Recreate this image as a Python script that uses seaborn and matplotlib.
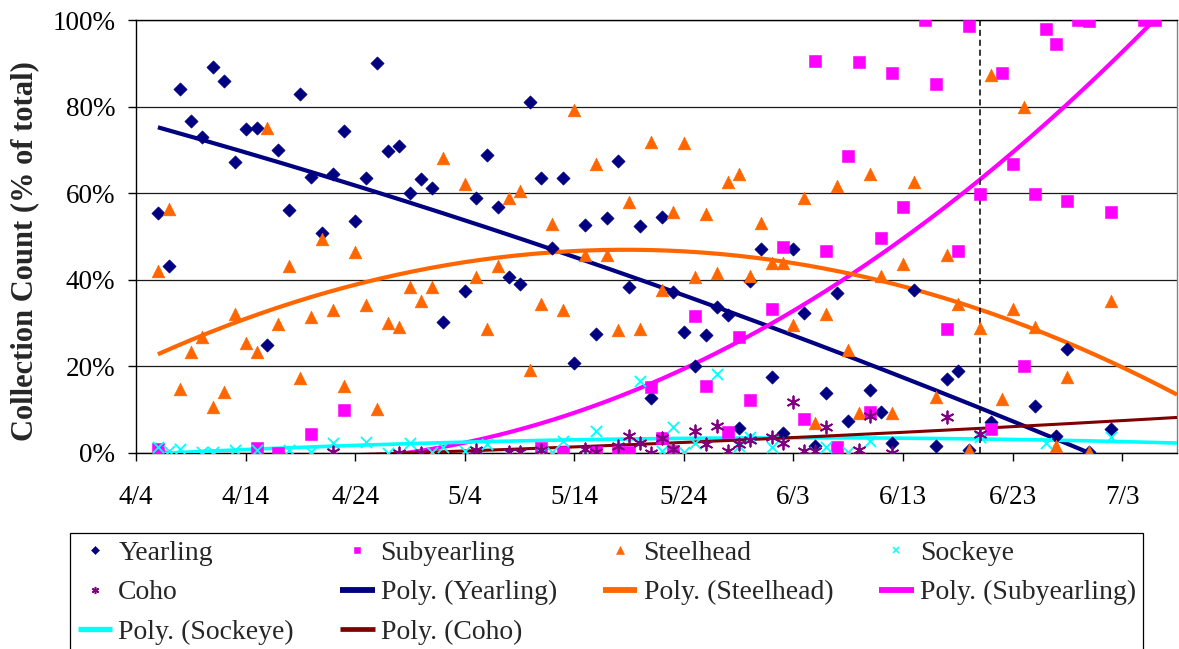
import datetime as dt

import numpy as np
import matplotlib
matplotlib.use("Agg")
import matplotlib.pyplot as plt
from matplotlib.lines import Line2D
import seaborn as sns

# ---------------------------------------------------------------------------
# Daily collection composition (days after 4/4, percent of total count)
# ---------------------------------------------------------------------------
yearling_day = [2, 3, 4, 5, 6, 7, 8, 9, 10, 11, 12, 13, 14, 15, 16, 17, 18, 19, 20, 21,
                22, 23, 24, 25, 26, 27, 28, 30, 31, 32, 33, 34, 35, 36, 37, 38, 39, 40,
                41, 42, 43, 44, 45, 46, 47, 48, 49, 50, 51, 52, 53, 54, 55, 56, 57, 58,
                59, 60, 61, 62, 63, 64, 65, 67, 68, 69, 71, 73, 74, 75, 76, 78, 82, 84,
                85, 87, 89]
yearling_pct = [55.5, 43.3, 84.1, 76.7, 73.0, 89.2, 85.9, 67.1, 74.8, 75.1,
                24.9, 70.0, 56.1, 82.8, 63.7, 50.7, 64.5, 74.4, 53.6, 63.5,
                90.0, 69.8, 70.8, 60.0, 63.2, 61.1, 30.3,
                37.4, 58.8, 68.8, 56.9, 40.7, 39.1, 81.0, 63.6, 47.3, 63.4,
                20.9, 52.7, 27.4, 54.3, 67.4, 38.3, 52.5, 12.6, 54.4, 37.1,
                28.0, 20.2, 27.3, 33.8, 31.9, 5.7, 39.7, 47.0, 17.6, 4.7,
                47.0, 32.4, 1.6, 13.9, 36.9, 7.4,
                14.6, 9.4, 2.4, 37.6, 1.6, 17.1, 18.9, 0.7, 7.2, 10.9, 3.9, 24.0, 0.2, 5.5]

subyearling_day = [2, 11, 13, 16, 19, 37, 39, 42, 44, 45, 47, 48, 49, 51, 52, 54, 55, 56,
                   58, 59, 61, 62, 63, 64, 65, 66, 67, 68, 69, 70, 72, 73, 74, 75, 76, 77,
                   78, 79, 80, 81, 82, 83, 84, 85, 86, 87, 89, 92, 93]
subyearling_pct = [0.9, 1.1, 0.1, 4.4, 9.9, 1.1, 0.3, 0.3, 0.3, 0.3,
                   15.3, 3.4, 0.5, 31.6, 15.5, 4.8, 26.7, 12.2, 33.3, 47.5,
                   7.9, 90.5, 46.7, 1.5, 68.7, 90.3, 9.5, 49.6, 87.7, 56.7,
                   100.0, 85.2, 28.6, 46.7, 98.7, 59.9, 5.5, 87.7, 66.8, 20.1,
                   59.9, 97.9, 94.5, 58.3, 100.0, 99.8, 55.7, 100.0, 100.0]

steelhead_day = [2, 3, 4, 5, 6, 7, 8, 9, 10, 11, 12, 13, 14, 15, 16, 17, 18, 19, 20, 21,
                 22, 23, 24, 25, 26, 27, 28, 30, 31, 32, 33, 34, 35, 36, 37, 38, 39, 40,
                 41, 42, 43, 44, 45, 46, 47, 48, 49, 50, 51, 52, 53, 54, 55, 56, 57, 58,
                 59, 60, 61, 62, 63, 64, 65, 66, 67, 68, 69, 70, 71, 73, 74, 75, 76, 77,
                 78, 79, 80, 81, 82, 84, 85, 87, 89]
steelhead_pct = [42.0, 56.3, 14.8, 23.3, 26.7, 10.6, 14.2, 32.0, 25.4, 23.3,
                 75.1, 29.9, 43.2, 17.3, 31.5, 49.5, 33.0, 15.5, 46.4, 34.2,
                 10.2, 30.1, 29.0, 38.3, 35.0, 38.3, 68.2,
                 62.1, 40.6, 28.7, 43.3, 59.0, 60.6, 19.2, 34.4, 52.9, 33.0,
                 79.1, 45.7, 66.7, 45.7, 28.4, 58.0, 28.6, 71.9, 37.6, 55.6,
                 71.5, 40.7, 55.1, 41.6, 62.5, 64.4, 40.9, 53.2, 43.8, 43.8,
                 29.6, 58.8, 6.9, 32.1, 61.7, 23.8, 9.2, 64.4, 40.9, 9.3,
                 43.6, 62.7,
                 13.0, 45.7, 34.3, 0.7, 28.8, 87.3, 12.4, 33.3, 80.0, 29.0, 1.6, 17.6, 0.2, 35.1]

sockeye_day = [2, 3, 4, 6, 7, 9, 11, 14, 16, 18, 21, 23, 25, 27, 28, 30, 32, 37, 38, 39,
               41, 42, 46, 48, 49, 50, 51, 53, 55, 56, 58, 62, 63, 65, 67, 77, 83, 89]
sockeye_pct = [1.5, 0.5, 1.0, 0.2, 0.2, 0.8, 0.8, 0.8, 0.3, 2.3,
               2.5, 0.1, 2.4, 0.2, 1.4, 0.5, 2.1, 0.3, 0.2, 2.8,
               0.5, 5.1, 16.6, 0.4, 6.0, 0.2, 2.3, 18.2, 1.6, 3.8,
               1.4, 0.2, 1.4, 0.2, 2.7, 3.7, 2.3, 3.7]

coho_day = [18, 24, 26, 31, 34, 35, 37, 41, 42, 44, 45, 46, 47, 48, 49, 51, 52, 53, 54,
            55, 56, 58, 59, 60, 61, 62, 63, 66, 67, 69, 74, 77]
coho_pct = [0.2, 0.0, 0.0, 0.7, 0.2, 0.2, 0.8, 1.0, 0.2, 1.7,
            3.9, 2.3, 0.0, 3.5, 1.0, 5.0, 2.0, 6.3, 0.5, 2.0,
            3.1, 3.8, 2.3, 11.8, 0.5, 0.5, 5.9, 0.6, 8.6, 0.1,
            8.4, 4.4]

x_tick_labels = ["4/4", "4/14", "4/24", "5/4", "5/14", "5/24", "6/3", "6/13", "6/23", "7/3"]
y_tick_values = [0, 20, 40, 60, 80, 100]
axis_start = "4/4"
axis_end = "7/8"
reference_date = "6/20"

# ---------------------------------------------------------------------------
YEAR = 2003


def day_of(label):
    m, d = (int(v) for v in label.split("/"))
    start_m, start_d = (int(v) for v in axis_start.split("/"))
    return (dt.date(YEAR, m, d) - dt.date(YEAR, start_m, start_d)).days


series = [
    # label, days, values, marker, size, colour, trend colour, trend width
    ("Yearling", yearling_day, yearling_pct, "D", 46, "#000080", "#000080", 3.0),
    ("Subyearling", subyearling_day, subyearling_pct, "s", 70, "#FF00FF", "#FF00FF", 3.0),
    ("Steelhead", steelhead_day, steelhead_pct, "^", 84, "#FF6600", "#FF6600", 3.0),
    ("Sockeye", sockeye_day, sockeye_pct, "x", 64, "#00FFFF", "#00FFFF", 2.6),
    ("Coho", coho_day, coho_pct, (6, 2, 0), 78, "#800080", "#800000", 2.2),
]

sns.set_style("ticks")
plt.rcParams["font.family"] = ["Liberation Serif", "DejaVu Serif"]

fig = plt.figure(figsize=(11.79, 6.49), dpi=100)
ax = fig.add_axes([136 / 1179, 1 - 453 / 649, (1177 - 136) / 1179, (453 - 20) / 649])

x_lo, x_hi = day_of(axis_start), day_of(axis_end)

# polynomial (2nd order) trend lines, drawn from each series' first day to the axis end
trend_handles = {}
for name, days, vals, marker, size, colour, tcol, tlw in series:
    d = np.asarray(days, float)
    v = np.asarray(vals, float)
    coef = np.polyfit(d, v, 2)
    xs = np.linspace(d.min(), x_hi, 300)
    sns.lineplot(x=xs, y=np.polyval(coef, xs), color=tcol, linewidth=tlw,
                 ax=ax, zorder=3, legend=False, solid_capstyle="butt")
    trend_handles[name] = Line2D([], [], color=tcol, linewidth=tlw + 1.2,
                                 solid_capstyle="butt")

# the data points
marker_handles = {}
for name, days, vals, marker, size, colour, tcol, tlw in series:
    filled = marker in ("D", "s", "^")
    kw = dict(edgecolor=colour, linewidth=0.4) if filled else dict(linewidth=1.3)
    sns.scatterplot(x=days, y=vals, marker=marker, s=size, color=colour,
                    ax=ax, zorder=4, legend=False, **kw)
    marker_handles[name] = Line2D([], [], linestyle="none", marker=marker,
                                  markersize=np.sqrt(size) * 0.58,
                                  markerfacecolor=colour, markeredgecolor=colour,
                                  markeredgewidth=0.4 if filled else 1.1)

# vertical reference date
ax.axvline(day_of(reference_date), color="black", linestyle=(0, (4, 2.5)),
           linewidth=1.1, zorder=3.5)

# axes
ax.set_xlim(x_lo, x_hi)
ax.set_ylim(0, 100)
ax.set_xticks([day_of(t) for t in x_tick_labels], x_tick_labels)
ax.set_yticks(y_tick_values, [f"{v}%" for v in y_tick_values])
ax.yaxis.grid(True, color="#1a1a1a", linewidth=0.9, zorder=1)
ax.set_axisbelow(True)

ax.tick_params(axis="x", direction="out", length=6, width=1, pad=17,
               labelsize=19.5, colors="black")
ax.tick_params(axis="y", direction="out", length=6, width=1, pad=9,
               labelsize=19.5, colors="black")
for side in ("left", "bottom", "top"):
    ax.spines[side].set_color("black")
    ax.spines[side].set_linewidth(1.0)
ax.spines["right"].set_color("#808080")
ax.spines["right"].set_linewidth(1.0)

ax.set_xlabel("")
ax.set_ylabel("Collection Count (% of total)", fontsize=22, fontweight="bold")
ax.yaxis.set_label_coords((39 - 136) / 1041, (453 - 251) / 433)

# legend, filled row by row across four columns
row_major = [marker_handles["Yearling"], marker_handles["Subyearling"],
             marker_handles["Steelhead"], marker_handles["Sockeye"],
             marker_handles["Coho"], trend_handles["Yearling"],
             trend_handles["Steelhead"], trend_handles["Subyearling"],
             trend_handles["Sockeye"], trend_handles["Coho"]]
row_labels = ["Yearling", "Subyearling", "Steelhead", "Sockeye", "Coho",
              "Poly. (Yearling)", "Poly. (Steelhead)", "Poly. (Subyearling)",
              "Poly. (Sockeye)", "Poly. (Coho)"]
col_order = [0, 4, 8, 1, 5, 9, 2, 6, 3, 7]
leg = fig.legend([row_major[i] for i in col_order], [row_labels[i] for i in col_order],
                 ncol=4, loc="upper left", bbox_to_anchor=(70 / 1179, 1 - 533 / 649),
                 bbox_transform=fig.transFigure, borderaxespad=0, frameon=True,
                 fancybox=False, shadow=False, fontsize=20, handlelength=1.25,
                 handletextpad=0.22, columnspacing=1.65, labelspacing=0.5,
                 borderpad=0.27)
leg.get_frame().set_edgecolor("black")
leg.get_frame().set_linewidth(0.9)
leg.get_frame().set_facecolor("white")
leg.get_frame().set_alpha(1)

fig.savefig("out.png", dpi=100)
